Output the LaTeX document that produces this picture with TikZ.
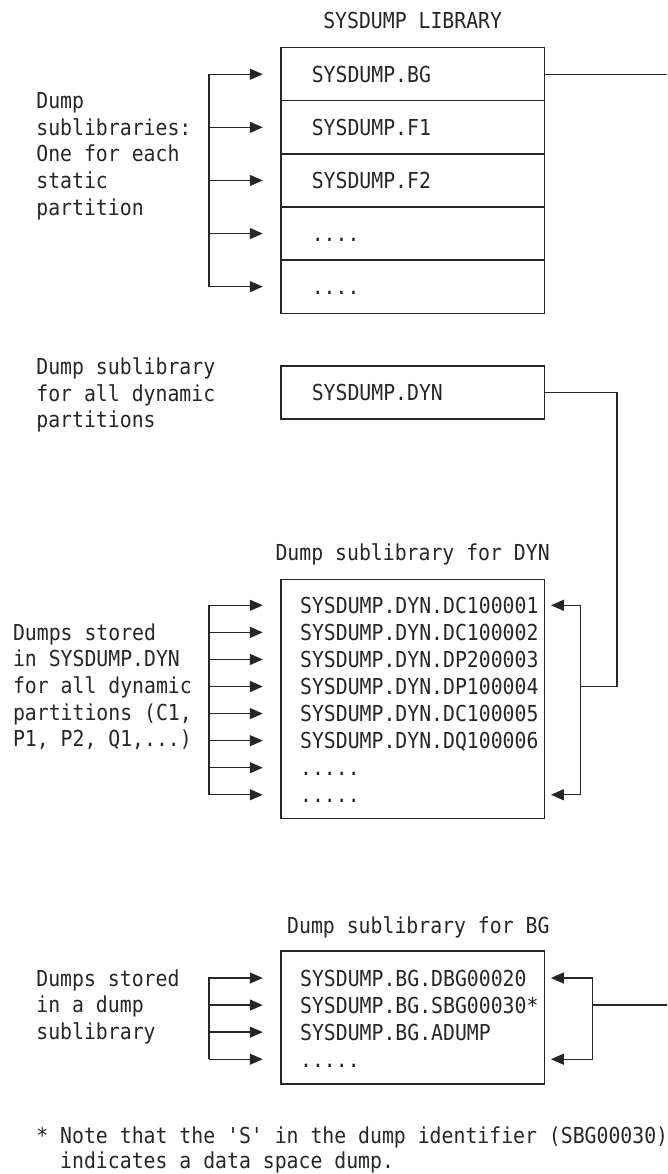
\documentclass[tikz,border=0pt]{standalone}
\usepackage{fontspec}
\setmonofont[FakeStretch=0.9]{DejaVu Sans Mono}
\usetikzlibrary{positioning,arrows.meta}
\definecolor{ink}{HTML}{262626}

\begin{document}
\begin{tikzpicture}[
        x=1pt, y=-1pt,
        font=\ttfamily\fontsize{22}{26.67}\selectfont,
        text=ink,
        wire/.style={draw=ink, line width=1.4pt},
        feed/.style={wire, -{Triangle[length=13pt, width=11pt]}},
        backfeed/.style={wire, {Triangle[length=13pt, width=11pt]}-{Triangle[length=13pt, width=11pt]}},
        slot/.style={
            draw=ink,
            line width=1.4pt,
            outer sep=0pt,
            minimum height=53.1pt,
            text width=201.7pt,
            inner xsep=31pt,
            inner ysep=0pt,
            text height=16pt,
            text depth=0pt,
            align=left
        },
        listbox/.style={draw=ink, line width=1.4pt, outer sep=0pt, minimum width=263.7pt, inner sep=0pt},
        entry/.style={text width=250pt, align=left, inner sep=0pt, text height=16pt, text depth=0pt},
        remark/.style={align=left, inner sep=0pt, anchor=north west},
        heading/.style={inner sep=0pt}
    ]

    \useasboundingbox (0,0) rectangle (667,1174);
    \coordinate (rim) at (667,0);

    % Part 1: the SYSDUMP library
    \node[slot, anchor=north west] (lbg) at (280.8,47.7) {SYSDUMP.BG};
    \node[slot, below=0pt of lbg] (lf1) {SYSDUMP.F1};
    \node[slot, below=0pt of lf1] (lf2) {SYSDUMP.F2};
    \node[slot, below=0pt of lf2] (ldots) {....};
    \node[slot, below=0pt of ldots] (lmore) {....};

    \node[heading, above=19.4pt of lbg, anchor=base] (libtitle) {SYSDUMP LIBRARY};

    \node[remark] (libnote) at (36.2,91.3) {\rule{0pt}{17pt}Dump\\sublibraries:\\One for each\\static\\partition};

    \coordinate (libfeed) at ([xshift=-72pt]lbg.west);
    \coordinate (libtip) at ([xshift=-18pt]lbg.west);

    \draw[feed] (libfeed |- lmore) -- (libfeed) -- (libtip);
    \draw[feed] (libfeed |- lf1) -- (libtip |- lf1);
    \draw[feed] (libfeed |- lf2) -- (libtip |- lf2);
    \draw[feed] (libfeed |- ldots) -- (libtip |- ldots);
    \draw[feed] (libfeed |- lmore) -- (libtip |- lmore);
    \draw[wire] (lbg.east) -- (lbg.east -| rim);

    % Part 2: the sublibrary for dynamic partitions
    \node[slot, anchor=north west] (dyn) at (280.8,366) {SYSDUMP.DYN};

    \node[remark] (dynnote) at (36.2,357.3) {\rule{0pt}{17pt}Dump sublibrary\\for all dynamic\\partitions};

    % Part 3: dumps kept in SYSDUMP.DYN
    \node[listbox, minimum height=239pt, anchor=north west] (dynlist) at (280.8,579.3) {};
    \node[heading, above=19.3pt of dynlist, anchor=base] (dyntitle) {Dump sublibrary for DYN};

    \node[entry, anchor=base west] (d1) at ([xshift=19.1pt, yshift=-34pt]dynlist.north west) {SYSDUMP.DYN.DC100001};
    \node[entry, below=10.67pt of d1] (d2) {SYSDUMP.DYN.DC100002};
    \node[entry, below=10.67pt of d2] (d3) {SYSDUMP.DYN.DP200003};
    \node[entry, below=10.67pt of d3] (d4) {SYSDUMP.DYN.DP100004};
    \node[entry, below=10.67pt of d4] (d5) {SYSDUMP.DYN.DC100005};
    \node[entry, below=10.67pt of d5] (d6) {SYSDUMP.DYN.DQ100006};
    \node[entry, below=10.67pt of d6] (d7) {.....};
    \node[entry, below=10.67pt of d7] (d8) {.....};

    \node[remark] (dynlistnote) at (12.8,623) {\rule{0pt}{17pt}Dumps stored\\in SYSDUMP.DYN\\for all dynamic\\partitions (C1,\\P1, P2, Q1,...)};

    \coordinate (dynfeed) at ([xshift=-72pt]dynlist.west);
    \coordinate (dyntip) at ([xshift=-18pt]dynlist.west);
    \coordinate (dynback) at ([xshift=6.4pt]dynlist.east);
    \coordinate (dynret) at ([xshift=36.2pt]dynlist.east);
    \coordinate (dynlink) at ([xshift=72.3pt]dyn.east);

    \draw[feed] (dynfeed |- d8) -- (dynfeed |- d1) -- (dyntip |- d1);
    \draw[feed] (dynfeed |- d2) -- (dyntip |- d2);
    \draw[feed] (dynfeed |- d3) -- (dyntip |- d3);
    \draw[feed] (dynfeed |- d4) -- (dyntip |- d4);
    \draw[feed] (dynfeed |- d5) -- (dyntip |- d5);
    \draw[feed] (dynfeed |- d6) -- (dyntip |- d6);
    \draw[feed] (dynfeed |- d7) -- (dyntip |- d7);
    \draw[feed] (dynfeed |- d8) -- (dyntip |- d8);

    \draw[backfeed] (dynback |- d1) -| (dynret |- d8) -- (dynback |- d8);
    \draw[wire] (dyn.east) -| (dynlink |- d4) -- (dynret |- d4);

    % Part 4: dumps kept in SYSDUMP.BG
    \node[listbox, minimum height=133pt, anchor=north west] (bglist) at (280.8,951) {};
    \node[heading, above=17.7pt of bglist, anchor=base, xshift=5.7pt] (bgtitle) {Dump sublibrary for BG};

    \node[entry, anchor=base west] (b1) at ([xshift=19.1pt, yshift=-35pt]bglist.north west) {SYSDUMP.BG.DBG00020};
    \node[entry, below=10.67pt of b1] (b2) {SYSDUMP.BG.SBG00030*};
    \node[entry, below=10.67pt of b2] (b3) {SYSDUMP.BG.ADUMP};
    \node[entry, below=10.67pt of b3] (b4) {.....};

    \node[remark] (bgnote) at (36.2,969) {\rule{0pt}{17pt}Dumps stored\\in a dump\\sublibrary};

    \coordinate (bgfeed) at ([xshift=-72pt]bglist.west);
    \coordinate (bgtip) at ([xshift=-18pt]bglist.west);
    \coordinate (bgback) at ([xshift=6.4pt]bglist.east);
    \coordinate (bgret) at ([xshift=48.1pt]bglist.east);

    \draw[feed] (bgfeed |- b4) -- (bgfeed |- b1) -- (bgtip |- b1);
    \draw[feed] (bgfeed |- b2) -- (bgtip |- b2);
    \draw[feed] (bgfeed |- b3) -- (bgtip |- b3);
    \draw[feed] (bgfeed |- b4) -- (bgtip |- b4);

    \draw[backfeed] (bgback |- b1) -| (bgret |- b4) -- (bgback |- b4);
    \draw[wire] (bgret |- b2) -- (rim |- b2);

    % footnote
    \node[remark] (footnote) at (36.2,1126.5) {\rule{0pt}{17pt}* Note that the 'S' in the dump identifier (SBG00030)\\[-2pt]\hphantom{*\ }indicates a data space dump.};

\end{tikzpicture}
\end{document}
